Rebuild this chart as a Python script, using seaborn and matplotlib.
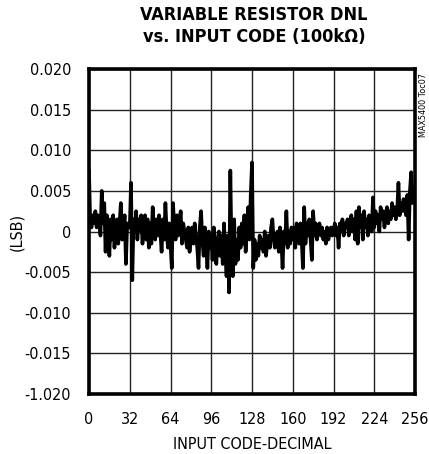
import matplotlib
matplotlib.use("Agg")
import matplotlib.pyplot as plt
import seaborn as sns
import pandas as pd

# ---- data ----
codes = list(range(256))
dnl = [
    0.0075, 0.0010, 0.0005, 0.0020, 0.0010, 0.0025, 0.0005, 0.0020, 0.0015, -0.0005, 0.0050, 0.0010, 0.0035, -0.0025, 0.0020, 0.0005,
    -0.0030, 0.0015, -0.0010, 0.0020, -0.0020, 0.0005, 0.0015, -0.0015, 0.0010, 0.0035, -0.0010, 0.0005, 0.0020, -0.0040, 0.0010, 0.0005,
    0.0005, 0.0060, -0.0060, 0.0015, 0.0000, 0.0025, -0.0010, 0.0015, 0.0000, 0.0020, -0.0015, 0.0010, 0.0020, -0.0010, 0.0015, -0.0020,
    0.0010, -0.0015, 0.0030, 0.0005, -0.0010, 0.0015, -0.0005, 0.0020, 0.0000, -0.0025, 0.0015, -0.0010, 0.0035, 0.0000, -0.0020, 0.0010,
    -0.0015, -0.0045, 0.0035, 0.0005, -0.0010, 0.0020, -0.0005, 0.0010, 0.0025, -0.0015, 0.0010, 0.0000, -0.0010, -0.0020, 0.0005, -0.0025,
    -0.0005, 0.0005, -0.0015, 0.0010, -0.0005, -0.0020, -0.0045, 0.0005, 0.0025, -0.0010, -0.0030, 0.0005, -0.0015, -0.0045, 0.0000, -0.0020,
    -0.0005, -0.0035, 0.0005, -0.0020, -0.0040, -0.0010, 0.0000, -0.0030, -0.0005, -0.0040, 0.0010, -0.0025, -0.0055, -0.0005, -0.0075, 0.0075,
    -0.0030, -0.0055, 0.0015, -0.0040, -0.0010, -0.0035, 0.0005, -0.0020, 0.0010, -0.0015, 0.0020, -0.0025, 0.0005, 0.0030, -0.0010, 0.0045,
    0.0085, -0.0045, -0.0010, -0.0035, -0.0015, -0.0030, -0.0005, -0.0020, -0.0010, -0.0025, 0.0000, -0.0030, -0.0015, -0.0005, -0.0020, 0.0005,
    0.0015, -0.0010, -0.0020, -0.0005, 0.0000, -0.0025, 0.0005, -0.0010, -0.0045, 0.0000, -0.0015, 0.0025, -0.0020, 0.0000, -0.0015, 0.0005,
    -0.0010, 0.0005, -0.0020, 0.0010, -0.0005, -0.0015, 0.0010, -0.0010, -0.0045, 0.0030, -0.0015, 0.0010, -0.0005, 0.0015, -0.0010, -0.0035,
    0.0025, -0.0005, 0.0010, -0.0010, 0.0005, 0.0010, -0.0005, 0.0005, -0.0010, 0.0000, -0.0015, 0.0005, -0.0010, 0.0000, 0.0005, -0.0005,
    0.0000, 0.0010, -0.0005, 0.0005, -0.0020, 0.0010, 0.0000, 0.0015, -0.0005, 0.0010, 0.0005, 0.0015, -0.0005, 0.0010, 0.0020, 0.0000,
    0.0015, -0.0010, 0.0025, -0.0015, 0.0030, 0.0005, 0.0020, -0.0010, 0.0025, 0.0005, 0.0015, -0.0005, 0.0020, 0.0010, 0.0000, 0.0042,
    0.0005, 0.0025, 0.0010, 0.0020, 0.0000, 0.0030, 0.0015, 0.0025, 0.0005, 0.0020, 0.0030, 0.0010, 0.0025, 0.0015, 0.0035, 0.0020,
    0.0030, 0.0015, 0.0025, 0.0060, 0.0020, 0.0035, 0.0025, 0.0040, 0.0030, 0.0020, 0.0045, -0.0010, 0.0050, 0.0073, 0.0035, 0.0055,
]
x_ticks = [0, 32, 64, 96, 128, 160, 192, 224, 256]
y_ticks = [0.020, 0.015, 0.010, 0.005, 0.0, -0.005, -0.010, -0.015, -0.020]
y_tick_labels = ["0.020", "0.015", "0.010", "0.005", "0", "-0.005", "-0.010", "-0.015", "-1.020"]

title_text = "VARIABLE RESISTOR DNL\nvs. INPUT CODE (100k\u03a9)"
x_label = "INPUT CODE-DECIMAL"
y_label = "(LSB)"
side_note = "MAX5400 Toc07"

df = pd.DataFrame({"code": codes, "dnl": dnl})

sns.set_theme(style="white")
plt.rcParams["font.family"] = ["DejaVu Sans"]
plt.rcParams["font.stretch"] = "condensed"

fig = plt.figure(figsize=(4.29, 4.54), dpi=100)
ax = fig.add_axes([89 / 429, 60 / 454, (415 - 89) / 429, (394 - 69) / 454])

sns.lineplot(data=df, x="code", y="dnl", ax=ax, color="black", linewidth=2.6)

ax.set_xlim(0, 256)
ax.set_ylim(-0.020, 0.020)
ax.set_xticks(x_ticks)
ax.set_xticklabels([str(t) for t in x_ticks])
ax.set_yticks(y_ticks)
ax.set_yticklabels(y_tick_labels)
ax.tick_params(axis="both", length=0, labelsize=11.5, colors="black")
ax.tick_params(axis="y", pad=13)
ax.tick_params(axis="x", pad=13)
ax.grid(True, color="#222222", linewidth=1.0)
for s in ax.spines.values():
    s.set_color("black")
    s.set_linewidth(2.6)

ax.set_xlabel(x_label, fontsize=11.5, color="black", labelpad=7)
ax.set_ylabel(y_label, fontsize=11.5, color="black", labelpad=0)

fig.text(254 / 429, 1 - 26 / 454, title_text, ha="center", va="center",
         fontsize=13, fontweight="bold", linespacing=1.3, color="black")
fig.text(423 / 429, 1 - 105 / 454, side_note, rotation=90, ha="center", va="center",
         fontsize=6.5, color="black")

fig.savefig("out.png", dpi=100)
